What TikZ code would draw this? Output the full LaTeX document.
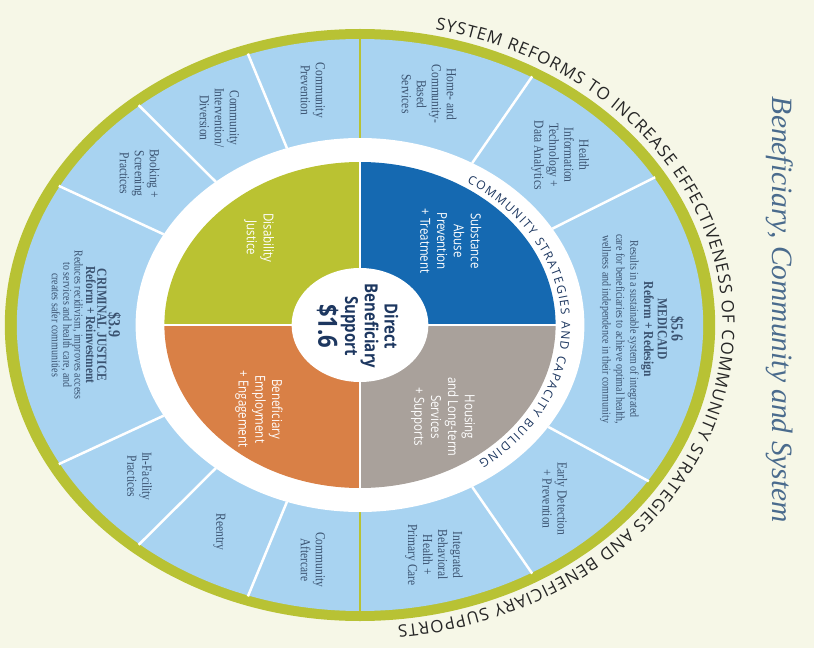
\documentclass[tikz,border=0pt]{standalone}
\usepackage{fontspec}
\setmainfont{Liberation Serif}
\setsansfont{Open Sans}
\usetikzlibrary{decorations.text}

\definecolor{paper}{HTML}{F6F7E7}
\definecolor{rim}{HTML}{B8C234}
\definecolor{ring}{HTML}{A8D3F1}
\definecolor{subst}{HTML}{1569B1}
\definecolor{house}{HTML}{A9A19B}
\definecolor{employ}{HTML}{D98046}
\definecolor{disab}{HTML}{BAC232}
\definecolor{navy}{HTML}{1D3760}
\definecolor{labelblue}{HTML}{3A5270}
\definecolor{titleblue}{HTML}{4A6B8D}

\tikzset{
  seglabel/.style={xscale=1.2, rotate=-90, align=center, text=labelblue, font=\fontsize{11.5}{12.5}\selectfont},
  quadlabel/.style={xscale=1.2, rotate=-90, align=center, text=white, font=\sffamily\fontsize{11.5}{14}\selectfont},
  divider/.style={white, line width=2.5pt},
}

\begin{document}
\begin{tikzpicture}[x=1.2pt, y=1pt]
  \useasboundingbox (-360pt,-323pt) rectangle (454pt,325pt);
  \fill[paper] (-360pt,-323pt) rectangle (454pt,325pt); %background

  \fill[rim] (0,0) circle[radius=296]; %outer rim
  \fill[ring] (0,0) circle[radius=286]; %strategy ring
  \foreach \a in {109,130,151,209,230,251,60,31,-33,-60}
    \draw[divider] (\a:187) -- (\a:287);
  \foreach \a in {90,270}
    \draw[rim, line width=2.5pt] (\a:187) -- (\a:287); %medicaid | justice
  \fill[white] (0,0) circle[radius=187];

  % quadrants
  \fill[subst] (0,0) -- (0:163) arc[start angle=0, end angle=90, radius=163] -- cycle;
  \fill[disab] (0,0) -- (90:163) arc[start angle=90, end angle=180, radius=163] -- cycle;
  \fill[employ] (0,0) -- (180:163) arc[start angle=180, end angle=270, radius=163] -- cycle;
  \fill[house] (0,0) -- (270:163) arc[start angle=270, end angle=360, radius=163] -- cycle;
  \draw[white, line width=2pt] (0:164) -- (180:164) (90:164) -- (270:164);
  \fill[white] (0,0) circle[radius=57]; %hub

  % ring labels
  \foreach \a/\txt [count=\i] in {
      99.5/{Community\\Prevention},
      119.5/{Community\\Intervention/\\Diversion},
      140.5/{Booking +\\Screening\\Practices},
      219.5/{In-Facility\\Practices},
      240.5/{Reentry},
      260.5/{Community\\Aftercare},
      -75/{Integrated\\Behavioral\\Health +\\Primary Care},
      -47/{Early Detection\\+ Prevention},
      45.5/{Health\\Information\\Technology +\\Data Analytics},
      76/{Home- and\\Community-\\Based\\Services}}
    \node[seglabel] (lbl\i) at (\a:238) {\txt};

  \node[seglabel, font=\fontsize{10}{11.5}\selectfont] (medicaid) at (-1:235)
    {{\fontsize{14}{15}\selectfont\bfseries\$5.6}\\
     {\fontsize{11.5}{13}\selectfont\bfseries MEDICAID}\\
     {\fontsize{11.5}{13}\selectfont\bfseries Reform + Redesign}\\
     Results in a sustainable system of integrated\\
     care for beneficiaries to achieve optimal health,\\
     wellness and independence in their community};
  \node[seglabel, font=\fontsize{10}{9.5}\selectfont] (justice) at (180:228)
    {{\fontsize{14}{15}\selectfont\bfseries\$3.9}\\
     {\fontsize{11.5}{11}\selectfont\bfseries CRIMINAL JUSTICE}\\
     {\fontsize{11.5}{11}\selectfont\bfseries Reform + Reinvestment}\\
     Reduces recidivism, improves access\\
     to services and health care, and\\
     creates safer communities};

  % quadrant labels
  \node[quadlabel] (subst) at (48:113) {Substance\\Abuse\\Prevention\\+ Treatment};
  \node[quadlabel] (house) at (-53:115) {Housing\\and Long-term\\Services\\+ Supports};
  \node[quadlabel] (employ) at (225:119) {Beneficiary\\Employment\\+ Engagement};
  \node[quadlabel] (disab) at (134:121) {Disability\\Justice};

  \node[xscale=1.2, rotate=-90, align=center, text=navy, font=\sffamily\bfseries\fontsize{15}{16.5}\selectfont] (hub) at (-2,-1)
    {Direct\\Beneficiary\\Support\\[1pt]{\fontsize{22}{24}\selectfont\$1.6}};

  % curved captions
  \path[decorate, decoration={text along path, text color=navy, text align={fit to path},
      text={|\sffamily\fontsize{12}{12}\selectfont|COMMUNITY STRATEGIES AND CAPACITY BUILDING}}]
    (58:168) arc[start angle=58, end angle=-54, radius=168];
  \path[decorate, decoration={text along path, text color=black!85, text align={fit to path},
      text={|\sffamily\fontsize{17}{17}\selectfont|SYSTEM REFORMS TO INCREASE EFFECTIVENESS OF COMMUNITY STRATEGIES AND BENEFICIARY SUPPORTS}}]
    (78:302) arc[start angle=78, end angle=-84, radius=302];

  \node[rotate=-90, text=titleblue, font=\itshape\fontsize{29.5}{30}\selectfont] (title) at (420pt,15pt)
    {Beneficiary, Community and System};
\end{tikzpicture}
\end{document}
